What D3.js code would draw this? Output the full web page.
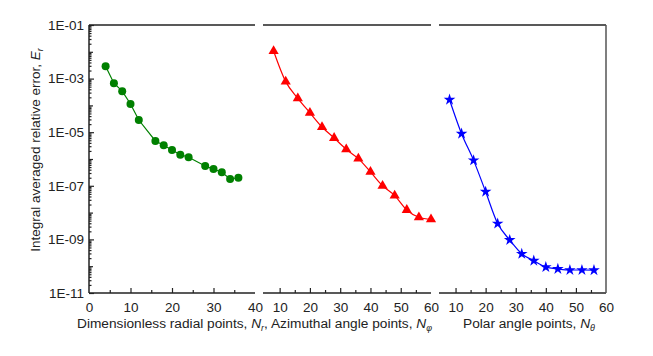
<!DOCTYPE html>
<html>
<head>
<meta charset="utf-8">
<script src="https://cdn.jsdelivr.net/npm/d3@7"></script>
<style>
  body { margin: 0; background: #fff; }
  text { font-family: "Liberation Sans", Arial, sans-serif; fill: #222; }
</style>
</head>
<body>
<script>
const w = 653;
const h = 356;
const yTop = 25;
const yBot = 293;

// radial points
const nr = [4, 6, 8, 10, 12, 16, 18, 20, 22, 24, 28, 30, 32, 34, 36];
const errR = [2.9e-3, 6.7e-4, 3.4e-4, 1.13e-4, 2.85e-5, 4.7e-6, 3.25e-6, 2.17e-6, 1.45e-6, 1.16e-6, 5.5e-7, 4.2e-7, 3.2e-7, 1.8e-7, 2.0e-7];
// azimuthal angle points
const nPhi = [8, 12, 16, 20, 24, 28, 32, 36, 40, 44, 48, 52, 56, 60];
const errPhi = [1.07e-2, 7.7e-4, 1.84e-4, 5.3e-5, 1.56e-5, 6.1e-6, 2.3e-6, 1.03e-6, 3.3e-7, 1.0e-7, 4.3e-8, 1.25e-8, 6.7e-9, 5.6e-9];
// polar angle points
const nTheta = [8, 12, 16, 20, 24, 28, 32, 36, 40, 44, 48, 52, 56];
const errTheta = [1.63e-4, 8.8e-6, 8.9e-7, 6.0e-8, 3.9e-9, 9.5e-10, 2.9e-10, 1.6e-10, 9.3e-11, 7.9e-11, 7.2e-11, 7.2e-11, 7.1e-11];

const yTicks = [1e-1, 1e-3, 1e-5, 1e-7, 1e-9, 1e-11];
const xTicks1 = [0, 10, 20, 30, 40];
const xTicks2 = [10, 20, 30, 40, 50, 60];
const xTicks3 = [10, 20, 30, 40, 50, 60];

const panels = [
  { domain: [0, 40], range: [89, 255], ticks: xTicks1, minor: [5, 15, 25, 35],
    xs: nr, ys: errR, color: "#008000", marker: "circle", curve: d3.curveLinear },
  { domain: [4.5, 60], range: [263, 431], ticks: xTicks2, minor: [15, 25, 35, 45, 55],
    xs: nPhi, ys: errPhi, color: "#ff0000", marker: "triangle", curve: d3.curveMonotoneX },
  { domain: [4.5, 60], range: [439, 606], ticks: xTicks3, minor: [15, 25, 35, 45, 55],
    xs: nTheta, ys: errTheta, color: "#0000ff", marker: "star", curve: d3.curveMonotoneX }
];

const svg = d3.select("body").append("svg")
  .attr("width", w)
  .attr("height", h);

const yScale = d3.scaleLog().domain([1e-11, 1e-1]).range([yBot, yTop]);

// y axis labels
svg.append("g")
  .attr("transform", "translate(" + panels[0].range[0] + ",0)")
  .call(d3.axisLeft(yScale).tickValues(yTicks).tickSize(0).tickPadding(5)
    .tickFormat(d => "1E-" + String(Math.round(-Math.log10(d))).padStart(2, "0")))
  .call(g => g.select(".domain").remove())
  .selectAll("text").style("font-size", "13.5px").attr("fill", "#222");

// y ticks, pointing inward
const decades = d3.range(-11, -1 + 1).map(e => Math.pow(10, e));
const minorY = [];
decades.slice(0, -1).forEach(d => { for (let k = 2; k <= 9; k++) minorY.push(d * k); });

svg.append("g")
  .attr("transform", "translate(" + panels[0].range[0] + ",0)")
  .call(d3.axisRight(yScale).tickValues(yTicks).tickSize(5).tickFormat(""))
  .call(g => g.select(".domain").remove());
svg.append("g")
  .attr("transform", "translate(" + panels[0].range[0] + ",0)")
  .call(d3.axisRight(yScale).tickValues(decades.filter(d => !yTicks.includes(d))).tickSize(4).tickFormat(""))
  .call(g => g.select(".domain").remove());
svg.append("g")
  .attr("transform", "translate(" + panels[0].range[0] + ",0)")
  .call(d3.axisRight(yScale).tickValues(minorY).tickSize(2.5).tickFormat(""))
  .call(g => g.select(".domain").remove());

panels.forEach(p => {
  const x = d3.scaleLinear().domain(p.domain).range(p.range);

  // frame pieces
  svg.append("line")
    .attr("x1", p.range[0]).attr("x2", p.range[1])
    .attr("y1", yBot).attr("y2", yBot)
    .attr("stroke", "#222").attr("stroke-width", 1.5);
  svg.append("line")
    .attr("x1", p.range[0]).attr("x2", p.range[1])
    .attr("y1", yTop).attr("y2", yTop)
    .attr("stroke", "#222").attr("stroke-width", 1.5);

  // tick labels
  svg.append("g")
    .attr("transform", "translate(0," + yBot + ")")
    .call(d3.axisBottom(x).tickValues(p.ticks).tickSize(0).tickPadding(9))
    .call(g => g.select(".domain").remove())
    .selectAll("text").style("font-size", "13.5px").attr("fill", "#222");

  // ticks inward
  svg.append("g")
    .attr("transform", "translate(0," + yBot + ")")
    .call(d3.axisTop(x).tickValues(p.ticks.filter(t => t > p.domain[0] && t < p.domain[1])).tickSize(5).tickFormat(""))
    .call(g => g.select(".domain").remove());
  svg.append("g")
    .attr("transform", "translate(0," + yBot + ")")
    .call(d3.axisTop(x).tickValues(p.minor).tickSize(3).tickFormat(""))
    .call(g => g.select(".domain").remove());

  const pts = p.xs.map((v, i) => [v, p.ys[i]]);
  const line = d3.line()
    .x(d => x(d[0]))
    .y(d => yScale(d[1]))
    .curve(p.curve);

  svg.append("path")
    .datum(pts)
    .attr("fill", "none")
    .attr("stroke", p.color)
    .attr("stroke-width", 1.2)
    .attr("d", line);

  if (p.marker === "circle") {
    svg.selectAll(null).data(pts).enter().append("circle")
      .attr("cx", d => x(d[0]))
      .attr("cy", d => yScale(d[1]))
      .attr("r", 4)
      .attr("fill", p.color);
  } else {
    const sym = d3.symbol()
      .type(p.marker === "triangle" ? d3.symbolTriangle : d3.symbolStar)
      .size(p.marker === "triangle" ? 45 : 42);
    svg.selectAll(null).data(pts).enter().append("path")
      .attr("transform", d => "translate(" + x(d[0]) + "," + yScale(d[1]) + ")")
      .attr("d", sym)
      .attr("fill", p.color);
  }
});

svg.selectAll(".tick line").attr("stroke", "#222").attr("stroke-width", 1.2);

// left and right frame
svg.append("line")
  .attr("x1", panels[0].range[0]).attr("x2", panels[0].range[0])
  .attr("y1", yTop).attr("y2", yBot)
  .attr("stroke", "#222").attr("stroke-width", 1.5);
svg.append("line")
  .attr("x1", panels[2].range[1]).attr("x2", panels[2].range[1])
  .attr("y1", yTop).attr("y2", yBot)
  .attr("stroke", "#555").attr("stroke-width", 1.5);

// axis titles
const yTitle = svg.append("text")
  .attr("transform", "translate(40,150) rotate(-90)")
  .attr("text-anchor", "middle")
  .style("font-size", "13.5px");
yTitle.append("tspan").text("Integral averaged relative error, ");
yTitle.append("tspan").style("font-style", "italic").text("E");
yTitle.append("tspan").attr("dy", 3).style("font-size", "9px").style("font-style", "italic").text("r");

const xTitle = svg.append("text")
  .attr("x", 77).attr("y", 328)
  .style("font-size", "13.7px");
xTitle.append("tspan").text("Dimensionless radial points, ");
xTitle.append("tspan").style("font-style", "italic").text("N");
xTitle.append("tspan").attr("dy", 3).style("font-size", "9px").style("font-style", "italic").text("r");
xTitle.append("tspan").attr("dy", -3).text(", Azimuthal angle points, ");
xTitle.append("tspan").style("font-style", "italic").text("N");
xTitle.append("tspan").attr("dy", 3).style("font-size", "9px").style("font-style", "italic").text("φ");

const xTitle3 = svg.append("text")
  .attr("x", 463).attr("y", 328)
  .style("font-size", "13.7px");
xTitle3.append("tspan").text("Polar angle points, ");
xTitle3.append("tspan").style("font-style", "italic").text("N");
xTitle3.append("tspan").attr("dy", 3).style("font-size", "9px").style("font-style", "italic").text("θ");
</script>
</body>
</html>
